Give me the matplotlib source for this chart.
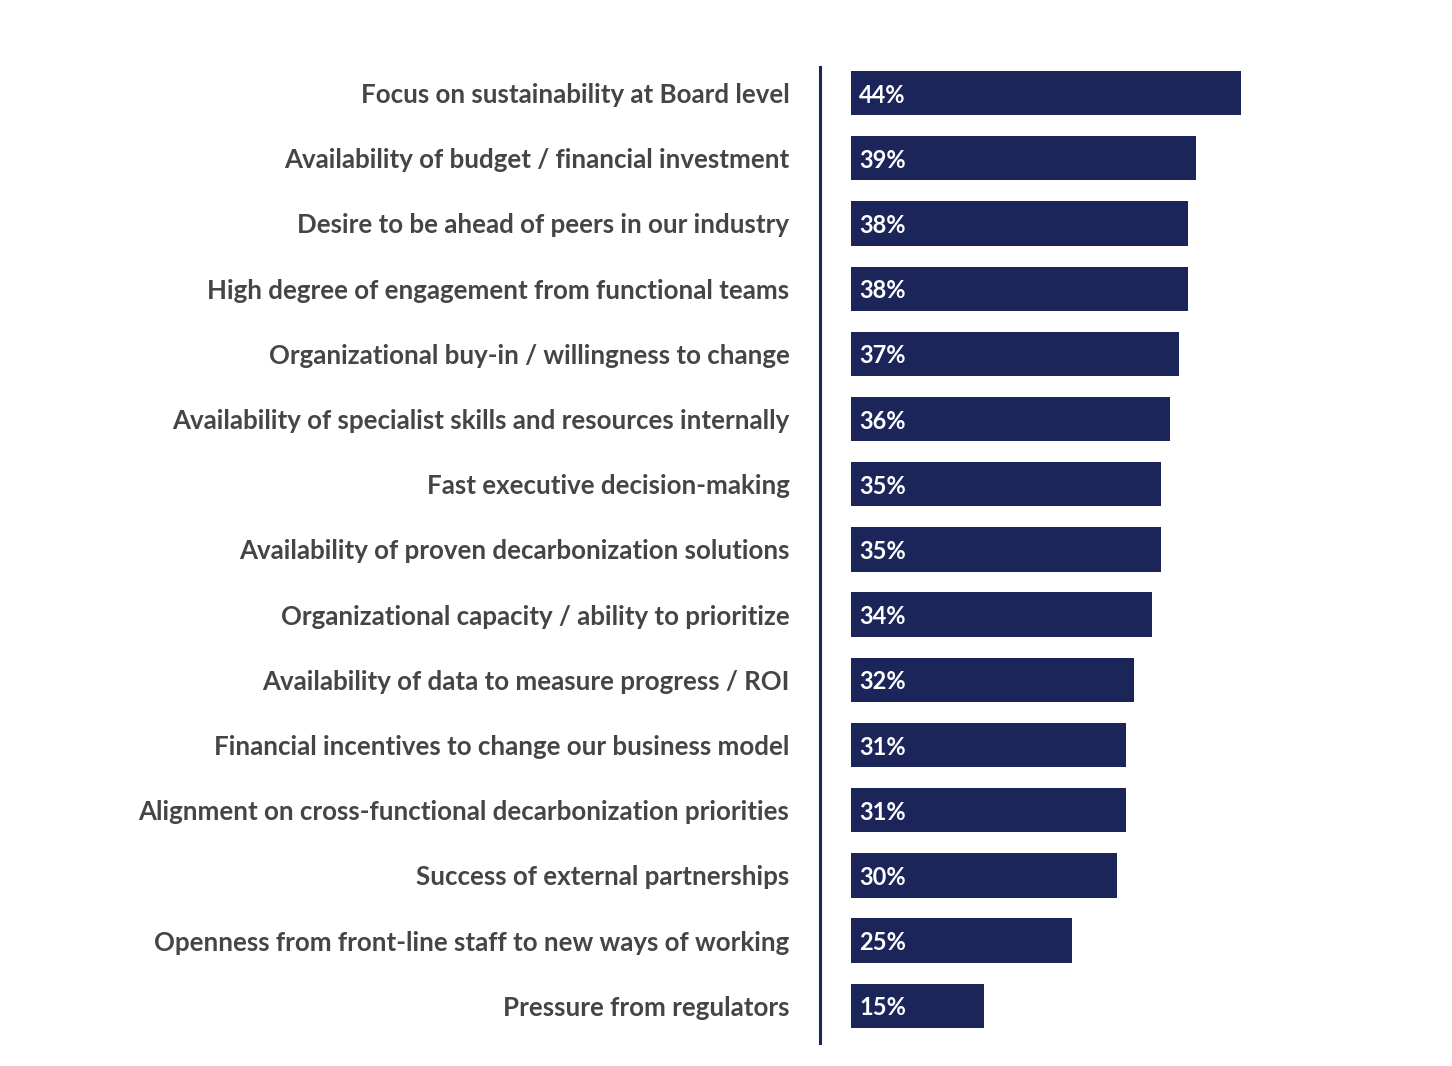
import matplotlib.pyplot as plt
import numpy as np

plt.rcParams['font.family'] = ['Lato', 'DejaVu Sans']

drivers = [
    "Focus on sustainability at Board level",
    "Availability of budget / financial investment",
    "Desire to be ahead of peers in our industry",
    "High degree of engagement from functional teams",
    "Organizational buy-in / willingness to change",
    "Availability of specialist skills and resources internally",
    "Fast executive decision-making",
    "Availability of proven decarbonization solutions",
    "Organizational capacity / ability to prioritize",
    "Availability of data to measure progress / ROI",
    "Financial incentives to change our business model",
    "Alignment on cross-functional decarbonization priorities",
    "Success of external partnerships",
    "Openness from front-line staff to new ways of working",
    "Pressure from regulators",
]
shares = [44, 39, 38, 38, 37, 36, 35, 35, 34, 32, 31, 31, 30, 25, 15]

navy = "#1c2559"
W, H = 1452, 1066
fig = plt.figure(figsize=(W / 100, H / 100), dpi=100)
ax = fig.add_axes([820 / W, 1 - 1043 / H, 480 / W, 976 / H])

y = np.arange(len(drivers))
ax.barh(y, shares, height=0.68, color=navy)
for yi, v in zip(y, shares):
    ax.text(0.95, yi, f"{v}%", color="white", va="center_baseline", ha="left",
            fontsize=17, fontweight="bold")

ax.set_xlim(-3.5, 50.7)
ax.set_ylim(len(drivers) - 1 + 0.57, -0.4)
ax.set_yticks(y)
ax.set_yticklabels(drivers, fontsize=18.6, color="#454545", fontweight="bold")
ax.tick_params(axis="y", length=0, pad=22)
ax.set_xticks([])
for s in ["top", "right", "bottom"]:
    ax.spines[s].set_visible(False)
ax.spines["left"].set_color(navy)
ax.spines["left"].set_linewidth(2.2)

fig.savefig("out.png", dpi=100)
